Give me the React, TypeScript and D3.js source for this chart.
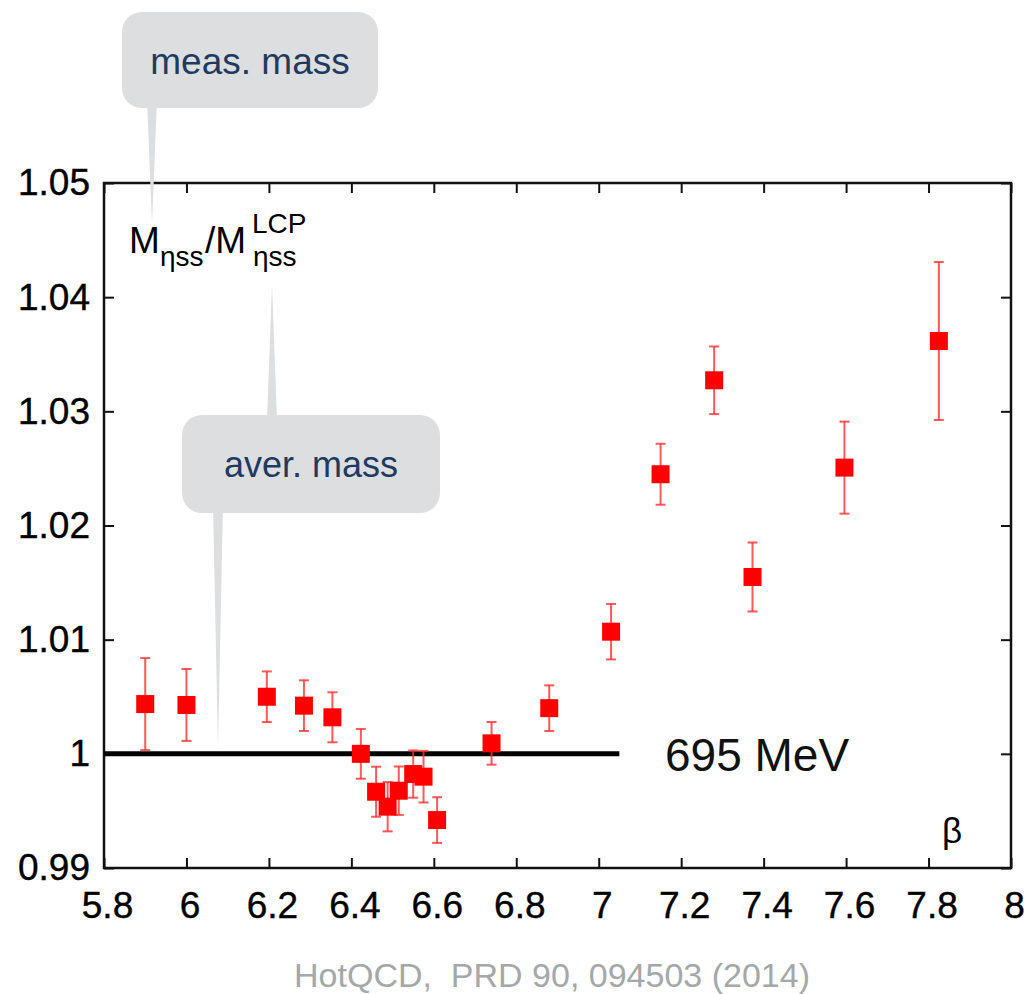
import React, { useEffect, useRef } from "react";
import * as d3 from "d3";

// beta values and the ratio M_etass / M_etass^LCP with errors
const beta = [
  5.9, 6.0, 6.195, 6.285, 6.354, 6.423, 6.46, 6.488, 6.515, 6.55, 6.575,
  6.608, 6.74, 6.88, 7.03, 7.15, 7.28, 7.373, 7.596, 7.825,
];
const ratio = [
  1.00436, 1.00428, 1.005, 1.00422, 1.0032, 1.0, 0.99668, 0.99537, 0.99677,
  0.99823, 0.998, 0.9942, 1.00092, 1.004, 1.0107, 1.02449, 1.03272, 1.01549,
  1.02507, 1.03616,
];
const ratioErr = [
  0.00403, 0.00315, 0.00222, 0.00222, 0.00219, 0.00218, 0.00219, 0.00216,
  0.00212, 0.00207, 0.00226, 0.002, 0.00187, 0.002, 0.00243, 0.00267, 0.00296,
  0.00302, 0.00403, 0.00692,
];

const xTicks = [5.8, 6, 6.2, 6.4, 6.6, 6.8, 7, 7.2, 7.4, 7.6, 7.8, 8];
const xTickLabels = ["5.8", "6", "6.2", "6.4", "6.6", "6.8", "7", "7.2", "7.4", "7.6", "7.8", "8"];
const yTicks = [0.99, 1.0, 1.01, 1.02, 1.03, 1.04, 1.05];
const yTickLabels = ["0.99", "1", "1.01", "1.02", "1.03", "1.04", "1.05"];

// reference line: average mass
const refLine = { from: 5.8, to: 7.05, value: 1.0 };

const W = 1030;
const H = 994;
const left = 104;
const right = 1011;
const top = 183;
const bottom = 868;

const FONT = "'Liberation Sans', Arial, Helvetica, sans-serif";

const App = () => {
  const svgRef = useRef(null);

  useEffect(() => {
    if (!svgRef.current) return;
    const svg = d3.select(svgRef.current);
    svg.selectAll("*").remove();

    const x = d3.scaleLinear().domain([5.8, 8]).range([left, right]);
    const y = d3.scaleLinear().domain([0.99, 1.05]).range([bottom, top]);

    // axes with inward ticks
    const styleAxis = (g) => {
      g.select(".domain").remove();
      g.selectAll(".tick line").attr("stroke", "#111").attr("stroke-width", 2);
      g.selectAll(".tick text")
        .attr("fill", "#000")
        .attr("stroke", "#000")
        .attr("stroke-width", 0.4)
        .style("font-family", FONT)
        .style("font-size", "37px");
    };

    svg
      .append("g")
      .attr("transform", `translate(0,${bottom})`)
      .call(
        d3
          .axisBottom(x)
          .tickValues(xTicks)
          .tickSize(-10)
          .tickSizeOuter(0)
          .tickPadding(24)
          .tickFormat((d, i) => xTickLabels[i])
      )
      .call(styleAxis)
      .selectAll(".tick text")
      .attr("dx", 3);

    svg
      .append("g")
      .attr("transform", `translate(0,${top})`)
      .call(d3.axisTop(x).tickValues(xTicks).tickSize(-10).tickSizeOuter(0).tickFormat(() => ""))
      .call(styleAxis);

    svg
      .append("g")
      .attr("transform", `translate(${left},0)`)
      .call(
        d3
          .axisLeft(y)
          .tickValues(yTicks)
          .tickSize(-10)
          .tickSizeOuter(0)
          .tickPadding(14)
          .tickFormat((d, i) => yTickLabels[i])
      )
      .call(styleAxis);

    svg
      .append("g")
      .attr("transform", `translate(${right},0)`)
      .call(d3.axisRight(y).tickValues(yTicks).tickSize(-10).tickSizeOuter(0).tickFormat(() => ""))
      .call(styleAxis);

    // frame
    svg
      .append("rect")
      .attr("x", left)
      .attr("y", top)
      .attr("width", right - left)
      .attr("height", bottom - top)
      .attr("fill", "none")
      .attr("stroke", "#111")
      .attr("stroke-width", 2.5);

    // reference line
    svg
      .append("line")
      .attr("x1", x(refLine.from))
      .attr("x2", x(refLine.to))
      .attr("y1", y(refLine.value))
      .attr("y2", y(refLine.value))
      .attr("stroke", "#000")
      .attr("stroke-width", 5);

    // error bars
    const pts = beta.map((b, i) => ({ b, v: ratio[i], e: ratioErr[i] }));
    const eb = svg
      .append("g")
      .attr("stroke", "#ff3030")
      .attr("stroke-opacity", 0.8)
      .attr("stroke-width", 2);
    pts.forEach((d) => {
      const cx = x(d.b);
      const y1 = y(d.v + d.e);
      const y2 = y(d.v - d.e);
      eb.append("line").attr("x1", cx).attr("x2", cx).attr("y1", y1).attr("y2", y2);
      eb.append("line").attr("x1", cx - 5).attr("x2", cx + 5).attr("y1", y1).attr("y2", y1);
      eb.append("line").attr("x1", cx - 5).attr("x2", cx + 5).attr("y1", y2).attr("y2", y2);
    });

    // square markers
    const s = 18;
    svg
      .append("g")
      .selectAll("rect")
      .data(pts)
      .enter()
      .append("rect")
      .attr("x", (d) => x(d.b) - s / 2)
      .attr("y", (d) => y(d.v) - s / 2)
      .attr("width", s)
      .attr("height", s)
      .attr("fill", "#ff0000");

    // labels
    const lab = svg.append("g").style("font-family", FONT).attr("fill", "#000");
    lab.append("text").attr("x", 129).attr("y", 253).style("font-size", "37px").text("M");
    lab.append("text").attr("x", 160).attr("y", 266).style("font-size", "28px").text("ηss");
    lab.append("text").attr("x", 205).attr("y", 253).style("font-size", "37px").text("/M");
    lab.append("text").attr("x", 253).attr("y", 266).style("font-size", "28px").text("ηss");
    lab.append("text").attr("x", 252).attr("y", 233).style("font-size", "28px").text("LCP");
    lab.append("text").attr("x", 942).attr("y", 843).style("font-size", "35px").text("β");

    svg
      .append("text")
      .attr("x", 665)
      .attr("y", 771)
      .attr("fill", "#111")
      .style("font-family", FONT)
      .style("font-weight", 300)
      .style("font-size", "46px")
      .text("695 MeV");

    svg
      .append("text")
      .attr("x", 552)
      .attr("y", 987)
      .attr("text-anchor", "middle")
      .attr("fill", "#a4a8a8")
      .style("font-family", FONT)
      .style("font-size", "34px")
      .style("white-space", "pre")
      .text("HotQCD,  PRD 90, 094503 (2014)");

    // callouts
    const callout = svg.append("g");
    const grey = "#dcdee0";
    callout
      .append("path")
      .attr("d", "M147,100 L157,100 L152,224 Z")
      .attr("fill", grey);
    callout
      .append("rect")
      .attr("x", 122)
      .attr("y", 12)
      .attr("width", 256)
      .attr("height", 96)
      .attr("rx", 20)
      .attr("fill", grey);
    callout
      .append("text")
      .attr("x", 250)
      .attr("y", 74)
      .attr("text-anchor", "middle")
      .attr("fill", "#1f3a60")
      .style("font-family", FONT)
      .style("font-size", "37px")
      .text("meas. mass");

    callout
      .append("path")
      .attr("d", "M267,420 L277,420 L272,284 Z")
      .attr("fill", grey);
    callout
      .append("path")
      .attr("d", "M213,505 L223,505 L218,748 Z")
      .attr("fill", grey);
    callout
      .append("rect")
      .attr("x", 182)
      .attr("y", 415)
      .attr("width", 258)
      .attr("height", 98)
      .attr("rx", 20)
      .attr("fill", grey);
    callout
      .append("text")
      .attr("x", 311)
      .attr("y", 477)
      .attr("text-anchor", "middle")
      .attr("fill", "#1f3a60")
      .style("font-family", FONT)
      .style("font-size", "36px")
      .text("aver. mass");
  }, []);

  return (
    <svg
      ref={svgRef}
      width={W}
      height={H}
      style={{ position: "absolute", left: 0, top: 0, background: "#fff" }}
    ></svg>
  );
};

export default App;
